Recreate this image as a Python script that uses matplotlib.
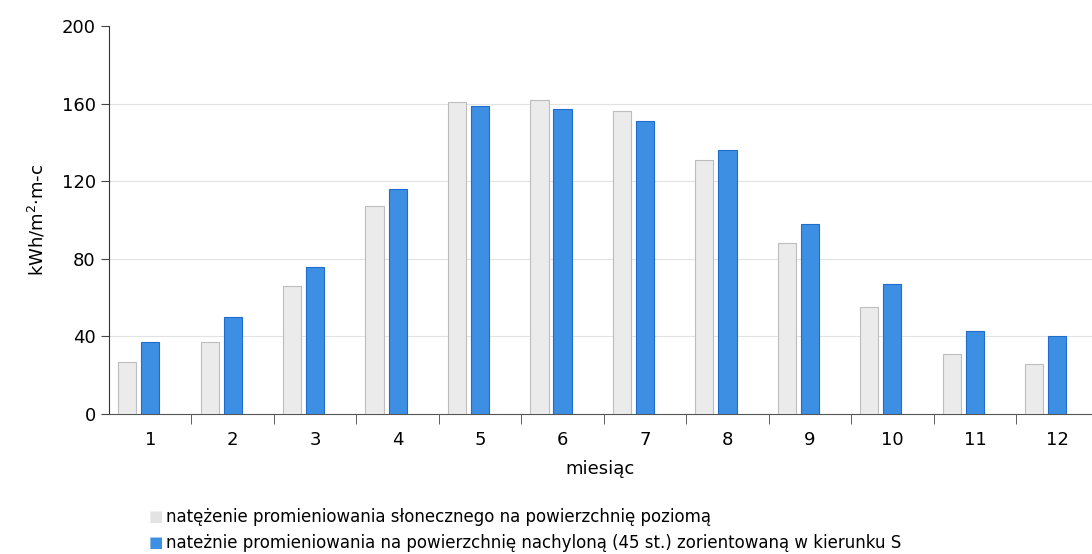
import matplotlib.pyplot as plt
import numpy as np

months = [1, 2, 3, 4, 5, 6, 7, 8, 9, 10, 11, 12]
horizontal = [27, 37, 66, 107, 161, 162, 156, 131, 88, 55, 31, 26]
tilted = [37, 50, 76, 116, 159, 157, 151, 136, 98, 67, 43, 40]
label_h = "natężenie promieniowania słonecznego na powierzchnię poziomą"
label_t = "nateżnie promieniowania na powierzchnię nachyloną (45 st.) zorientowaną w kierunku S"

fig = plt.figure(figsize=(10.92, 5.54), dpi=100)
ax = fig.add_axes([0.0998, 0.2527, 0.9002, 0.7003])

x = np.array(months)
w = 0.22
ax.bar(x - 0.28, horizontal, w, color='#ebebeb', edgecolor='#bdbdbd', linewidth=0.8, zorder=3)
ax.bar(x, tilted, w, color='#3d8fe3', edgecolor='#1f6ccc', linewidth=0.8, zorder=3)

ax.set_ylim(0, 200)
ax.set_xlim(0.5, 12.42)
ax.set_yticks([0, 40, 80, 120, 160, 200])
ax.set_xticks(x)
ax.set_xticks(np.arange(1.5, 12.5, 1), minor=True)
ax.tick_params(axis='x', which='major', length=0, labelsize=13, pad=12)
ax.tick_params(axis='x', which='minor', length=7, color='#444444')
ax.tick_params(axis='y', labelsize=13, length=6, color='#444444')
# faint horizontal guide lines
for v in [40, 80, 120, 160]:
    ax.axhline(v, color='#e2e2e2', linewidth=0.8, zorder=1)

for s in ['top', 'right']:
    ax.spines[s].set_visible(False)
ax.spines['left'].set_color('#333333')
ax.spines['bottom'].set_color('#555555')

ax.set_ylabel('kWh/m$^2$·m-c', fontsize=13, labelpad=10)
ax.set_xlabel('miesiąc', fontsize=13, labelpad=8)

fig.text(0.136, 0.067, '\u25A0', color='#e3e3e3', fontsize=11, va='center')
fig.text(0.152, 0.067, label_h, fontsize=12, va='center')
fig.text(0.136, 0.02, '\u25A0', color='#3d8fe3', fontsize=11, va='center')
fig.text(0.152, 0.02, label_t, fontsize=12, va='center')

fig.savefig('out.png', dpi=100)
